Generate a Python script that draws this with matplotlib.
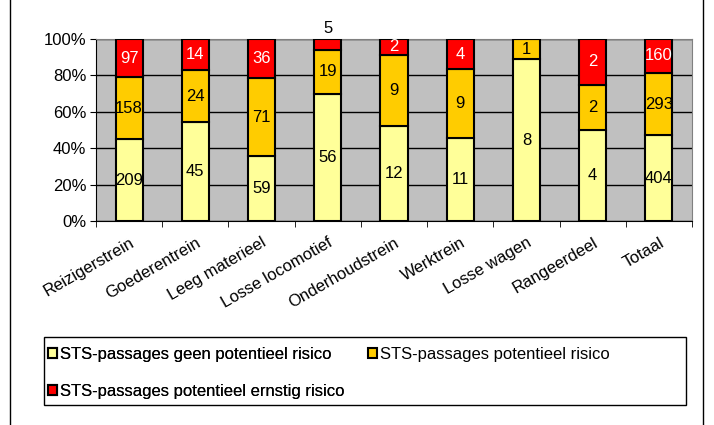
import numpy as np
import matplotlib
matplotlib.use("Agg")
from matplotlib import pyplot as plt
from matplotlib.patches import Rectangle

plt.rcParams['font.family'] = ['Liberation Sans', 'DejaVu Sans']

categories = ["Reizigerstrein", "Goederentrein", "Leeg materieel", "Losse locomotief",
              "Onderhoudstrein", "Werktrein", "Losse wagen", "Rangeerdeel", "Totaal"]
geen_risico = [209, 45, 59, 56, 12, 11, 8, 4, 404]
risico = [158, 24, 71, 19, 9, 9, 1, 2, 293]
ernstig_risico = [97, 14, 36, 5, 2, 4, 0, 2, 160]
series_names = ["STS-passages geen potentieel risico", "STS-passages potentieel risico",
                "STS-passages potentieel ernstig risico"]
colors = ["#FFFF99", "#FFCC00", "#FF0000"]
label_colors = ["black", "black", "white"]

data = np.array([geen_risico, risico, ernstig_risico], dtype=float)
pct = data / data.sum(axis=0) * 100

fs = 12
fig = plt.figure(figsize=(7.14, 4.25), dpi=100)
ax = fig.add_axes([96 / 714, 1 - 221 / 425, 596 / 714, 182 / 425])
ax.set_facecolor("#C0C0C0")

x = np.arange(len(categories))
bottom = np.zeros(len(categories))
bars = []
for i in range(3):
    b = ax.bar(x, pct[i], bottom=bottom, width=0.41, color=colors[i],
               edgecolor="black", linewidth=1.5, zorder=3, label=series_names[i])
    bars.append(b)
    for j in range(len(categories)):
        if data[i, j] == 0:
            continue
        yc = bottom[j] + pct[i, j] / 2
        col = label_colors[i]
        if pct[i, j] < 7:
            # small top segment: label sits above the bar
            yc = bottom[j] + pct[i, j] + 5.5
            col = "black"
        ax.text(x[j], yc, "%d" % data[i, j], ha="center", va="center",
                fontsize=fs, color=col, zorder=4, clip_on=False)
    bottom += pct[i]

ax.set_xlim(-0.5, len(categories) - 0.5)
ax.set_ylim(0, 100)
ax.set_yticks(np.arange(0, 101, 20))
ax.set_yticklabels(["%d%%" % v for v in range(0, 101, 20)], fontsize=fs)
ax.yaxis.grid(True, color="black", linewidth=1, zorder=1)
ax.set_xticks(x)
ax.set_xticklabels(categories, rotation=30, ha="right", rotation_mode="anchor", fontsize=fs)
ax.tick_params(axis="x", length=0, pad=10)
ax.set_xticks(np.arange(-0.5, len(categories), 1), minor=True)
ax.tick_params(axis="x", which="minor", length=4, direction="out")
ax.tick_params(axis="y", length=4, direction="out", pad=3)
for s in ["top", "right"]:
    ax.spines[s].set_color("#808080")
for s in ["left", "bottom"]:
    ax.spines[s].set_color("black")

# outer chart frame
fig.patches.append(Rectangle((10 / 714, -0.01), 693 / 714, 1.05, transform=fig.transFigure,
                             fill=False, edgecolor="black", linewidth=1))
# legend frame
fig.patches.append(Rectangle((44 / 714, 1 - 405 / 425), 642 / 714, 68 / 425,
                             transform=fig.transFigure, fill=False, edgecolor="black",
                             linewidth=1))

leg_kw = dict(loc="upper left", fontsize=fs, frameon=False, handlelength=0.55,
              handleheight=0.55, handletextpad=0.2, borderpad=0, labelspacing=1.3,
              borderaxespad=0)
leg1 = fig.legend(handles=[bars[0], bars[2]], labels=[series_names[0], series_names[2]],
                  bbox_to_anchor=(48 / 714, 1 - 347 / 425), **leg_kw)
fig.add_artist(leg1)
leg2 = fig.legend(handles=[bars[1]], labels=[series_names[1]],
                  bbox_to_anchor=(368 / 714, 1 - 347 / 425), **leg_kw)

fig.savefig("out.png", dpi=100)
